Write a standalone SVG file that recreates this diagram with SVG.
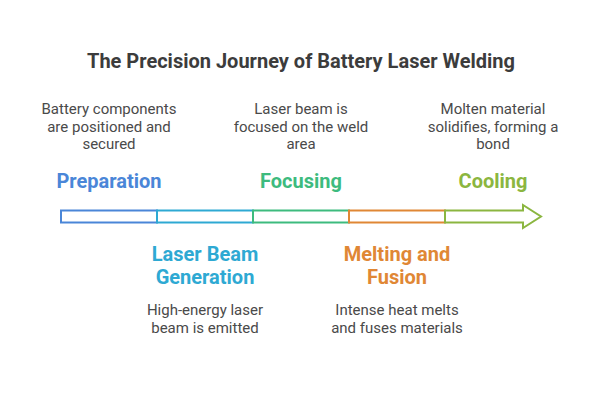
<svg xmlns="http://www.w3.org/2000/svg" width="602" height="410" viewBox="0 0 602 410">
<style>
.title{font-family:Roboto,"Liberation Sans",sans-serif;font-weight:700;font-size:20px;fill:#3c3c3c;text-anchor:middle}
.lbl{font-family:Roboto,"Liberation Sans",sans-serif;font-weight:700;font-size:20px;text-anchor:middle}
.desc{font-family:Roboto,"Liberation Sans",sans-serif;font-size:15px;fill:#4a4a4a;text-anchor:middle}
.seg{fill:#fff;stroke-width:2}
</style>
<rect width="602" height="410" fill="#fff"/>
<text class="title" x="301" y="68">The Precision Journey of Battery Laser Welding</text>
<g id="connectors">
<rect class="seg" x="61" y="210.5" width="96" height="12" stroke="#4a86d8"/>
<rect class="seg" x="157" y="210.5" width="96" height="12" stroke="#2ea9d3"/>
<rect class="seg" x="253" y="210.5" width="96" height="12" stroke="#3dbb7e"/>
<rect class="seg" x="349" y="210.5" width="96" height="12" stroke="#e08735"/>
<path class="seg" d="M445 210.5 H523 V205 L541 216.5 L523 228 V222.5 H445 Z" stroke="#8bb640" stroke-linejoin="miter"/>
</g>
<g id="preparation">
<text class="desc" x="109" y="114">Battery components</text>
<text class="desc" x="109" y="131.5">are positioned and</text>
<text class="desc" x="109" y="149">secured</text>
<text class="lbl" x="109" y="188" fill="#4a86d8">Preparation</text>
</g>
<g id="generation">
<text class="lbl" x="205" y="261" fill="#2ea9d3">Laser Beam</text>
<text class="lbl" x="205" y="284" fill="#2ea9d3">Generation</text>
<text class="desc" x="205" y="315">High-energy laser</text>
<text class="desc" x="205" y="332.5">beam is emitted</text>
</g>
<g id="focusing">
<text class="desc" x="301" y="114">Laser beam is</text>
<text class="desc" x="301" y="131.5">focused on the weld</text>
<text class="desc" x="301" y="149">area</text>
<text class="lbl" x="301" y="188" fill="#3dbb7e">Focusing</text>
</g>
<g id="melting">
<text class="lbl" x="397" y="261" fill="#e08735">Melting and</text>
<text class="lbl" x="397" y="284" fill="#e08735">Fusion</text>
<text class="desc" x="397" y="315">Intense heat melts</text>
<text class="desc" x="397" y="332.5">and fuses materials</text>
</g>
<g id="cooling">
<text class="desc" x="493" y="114">Molten material</text>
<text class="desc" x="493" y="131.5">solidifies, forming a</text>
<text class="desc" x="493" y="149">bond</text>
<text class="lbl" x="493" y="188" fill="#8bb640">Cooling</text>
</g>
</svg>
